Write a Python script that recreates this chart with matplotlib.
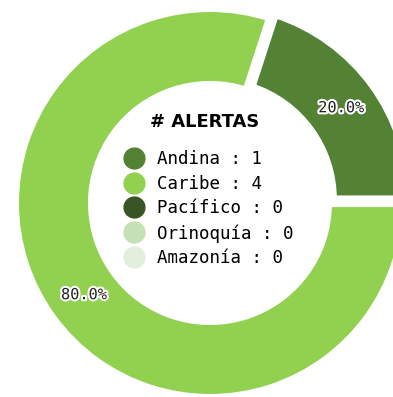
import matplotlib
matplotlib.use("Agg")
import matplotlib.pyplot as plt
import matplotlib.patheffects as pe
from matplotlib.lines import Line2D

regiones = ["Andina", "Caribe", "Pacífico", "Orinoquía", "Amazonía"]
alertas = [1, 4, 0, 0, 0]
colores = ["#548235", "#92D050", "#375623", "#C5E0B4", "#E2EFDA"]

W, H = 393, 397
fig = plt.figure(figsize=(W / 100, H / 100), dpi=100)
ax = fig.add_axes([0, 0, 1, 1])

R = 195
centro = (210, H - 203)
# explode va en unidades de datos (px aquí)
separar = [6, 0, 0, 0, 0]


def pct(p):
    return f"{p:.1f}%" if p > 0 else ""


wedges, _, autotexts = ax.pie(
    alertas, colors=colores, explode=separar,
    radius=R, center=centro, autopct=pct, pctdistance=0.80,
    wedgeprops=dict(width=77, edgecolor="white", linewidth=5.8),
    textprops=dict(family="DejaVu Sans Mono", fontsize=11, color="#222222"),
)
for t in autotexts:
    t.set_path_effects([pe.withStroke(linewidth=3, foreground="white")])

ax.set_xlim(0, W)
ax.set_ylim(0, H)
ax.set_aspect("equal")
ax.axis("off")

# leyenda en el hueco del anillo
handles = [Line2D([], [], marker="o", linestyle="", markersize=15, color=c)
           for c in colores]
labels = [f"{r} : {v}" for r, v in zip(regiones, alertas)]
leg = ax.legend(handles, labels, loc="center", frameon=False,
                bbox_to_anchor=(205 / W, 1 - 190 / H),
                prop=dict(family="DejaVu Sans Mono", size=12.6),
                title="# ALERTAS", handletextpad=0.3, labelspacing=0.38,
                borderaxespad=0)
leg.get_title().set_fontweight("bold")
leg.get_title().set_fontsize(12.9)
leg._legend_box.sep = 14

fig.savefig("out.png", dpi=100)
